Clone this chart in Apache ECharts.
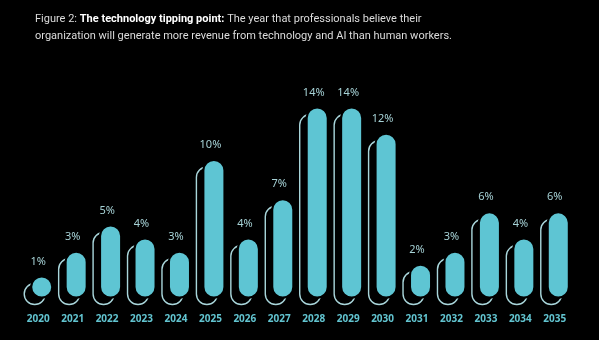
<!DOCTYPE html>
<html>
<head>
<meta charset="utf-8">
<script src="https://cdn.jsdelivr.net/npm/echarts@6/dist/echarts.min.js"></script>
<style>
html,body{margin:0;padding:0;background:#000;}
#c{width:599px;height:340px;}
</style>
</head>
<body>
<div id="c"></div>
<script>
const years = ['2020','2021','2022','2023','2024','2025','2026','2027','2028','2029','2030','2031','2032','2033','2034','2035'];
const shares = [1,3,5,4,3,10,4,7,14,14,12,2,3,6,4,6];
const valueLabels = shares.map(v => v + '%');

const chart = echarts.init(document.getElementById('c'));
const FILL = '#5ec5d3';
const OUTLINE = '#a9d6db';
const BASE = -0.5;

chart.setOption({
  backgroundColor: '#000',
  title: {
    left: 30, top: 6,
    text: '{r|Figure 2: }{b|The technology tipping point:}{r| The year that professionals believe their}\n{r|organization will generate more revenue from technology and AI than human workers.}',
    textStyle: {
      fontWeight: 'normal',
      rich: {
        r: {color: '#dcdcdc', fontSize: 11, fontFamily: 'Roboto', fontWeight: 'normal', lineHeight: 17},
        b: {color: '#ffffff', fontSize: 11, fontFamily: 'Roboto', fontWeight: 'bold', lineHeight: 17}
      }
    }
  },
  grid: {left: 21, right: 27, top: 101, bottom: 42.5},
  xAxis: {
    type: 'category', data: years,
    axisLine: {show: false}, axisTick: {show: false},
    axisLabel: {color: '#62c4d0', fontWeight: 'bold', fontSize: 10, fontFamily: 'Noto Sans', margin: 17}
  },
  yAxis: {
    type: 'value', min: BASE, max: 14.5, show: false, splitLine: {show: false}
  },
  series: [{
    type: 'custom',
    data: shares.map((v, i) => [i, v]),
    renderItem: function (params, api) {
      const i = api.value(0), v = api.value(1);
      const top = api.coord([i, v]);
      const bot = api.coord([i, BASE]);
      const w = 21, off = 3.5, dy = 7;
      let h = bot[1] - top[1];
      if (h < w) h = w;
      const y0 = bot[1] - h;
      const r = Math.min(w / 2, h / 2);
      return {
        type: 'group',
        children: [
          {type: 'rect', shape: {x: top[0] - off - w / 2, y: y0 + dy, width: w, height: h, r: r},
           style: {fill: 'none', stroke: OUTLINE, lineWidth: 1.4}},
          {type: 'rect', shape: {x: top[0] + off - w / 2, y: y0, width: w, height: h, r: r},
           style: {fill: FILL, stroke: '#000', lineWidth: 2}},
          {type: 'text', x: top[0], y: y0 - 15,
           style: {text: valueLabels[i], fill: '#a6d2d6', fontSize: 11, fontFamily: 'Noto Sans', align: 'center', verticalAlign: 'middle'}}
        ]
      };
    }
  }]
});
</script>
</body>
</html>
